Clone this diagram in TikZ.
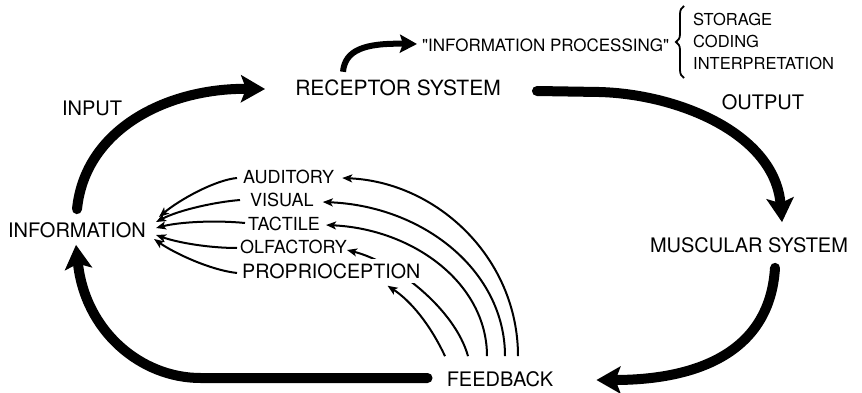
\documentclass[tikz,border=0pt]{standalone}
\usepackage{fontspec}
\setmainfont{TeX Gyre Heros}[Ligatures=TeXOff]
\usetikzlibrary{arrows.meta,calc,backgrounds,decorations.pathreplacing}
\begin{document}
\begin{tikzpicture}[x=1pt,y=-1pt,
  lbl/.style={inner sep=0pt,font=\fontsize{20}{22}\selectfont},
  sense/.style={inner sep=0pt,anchor=west,font=\fontsize{18}{20}\selectfont},
  small/.style={inner sep=0pt,anchor=west,font=\fontsize{16.5}{18}\selectfont},
  big/.style={line width=10pt,line cap=round,-{Stealth[length=24pt,width=27pt,inset=5pt]}},
  mid/.style={line width=6pt,-{Stealth[length=17pt,width=18pt,inset=3pt]}},
  fine/.style={line width=2pt,-{Stealth[length=10pt,width=8pt,inset=2.5pt]}},
]
\useasboundingbox (0,0) rectangle (862,393);

% labels
\node[lbl] (info) at (77,230) {INFORMATION};
\node[lbl] (input) at (92,108) {INPUT};
\node[lbl,font=\fontsize{21}{23}\selectfont] (rec) at (398,88) {RECEPTOR SYSTEM};
\node[lbl] (out) at (763,102) {OUTPUT};
\node[lbl] (mus) at (749,245) {MUSCULAR SYSTEM};
\node[lbl] (fb) at (500,379) {FEEDBACK};
\node[small,font=\fontsize{17}{19}\selectfont] (ip) at (422,45) {"INFORMATION PROCESSING"};
\node[small] (sto) at (693,19) {STORAGE};
\node[small] (cod) at (693,41) {CODING};
\node[small] (int) at (693,63) {INTERPRETATION};
\node[sense] (aud) at (243,177) {AUDITORY};
\node[sense] (vis) at (250,200) {VISUAL};
\node[sense] (tac) at (248,224) {TACTILE};
\node[sense] (olf) at (240,247) {OLFACTORY};
\node[sense,font=\fontsize{19.7}{21}\selectfont,fill=white,inner sep=4pt] (prop) at (238,271) {PROPRIOCEPTION};

% brace
\draw[line width=1.8pt,decorate,decoration={brace,amplitude=8pt}]
  ($(int.west)+(-9,15)$) -- ($(sto.west)+(-9,-13)$);

\begin{scope}[on background layer]
% main loop
\draw[big] ($(info.north)+(0,-13)$) .. controls +(8,-80) and +(-98,-1) .. ($(rec.west)+(-30,1)$);
\draw[big] ($(rec.east)+(36,3)$) -- ++(62,1) .. controls +(80,2) and +(-7,-88) .. ($(mus.north)+(33,-15)$);
\draw[big] ($(mus.south)+(26,15)$) .. controls +(-5,83) and +(103,0) .. ($(fb.east)+(43,1)$);
\draw[big] ($(fb.west)+(-19,-1)$) -- ++(-227,0) .. controls +(-60,0) and +(9,86) .. ($(info.south)+(-1,7)$);
% processing
\draw[mid] ($(rec.north)+(-55,-8)$) .. controls +(2,-22) and +(-52,-1) .. ($(ip.west)+(-5,-1)$);
% senses to information
\draw[fine] ($(aud.west)+(-6,1)$) .. controls +(-22,2) and +(20,-17) .. ($(info.east)+(13,-13)$);
\draw[fine] ($(vis.west)+(-10,0)$) .. controls +(-25,2) and +(23,-12) .. ($(info.east)+(10,-8)$);
\draw[fine] ($(tac.west)+(-3,-1)$) .. controls +(-30,-3) and +(23,-6) .. ($(info.east)+(10,-2)$);
\draw[fine] ($(olf.west)+(-3,1)$) .. controls +(-27,0) and +(23,8) .. ($(info.east)+(10,5)$);
\draw[fine] ($(prop.west)+(-1,2)$) .. controls +(-27,-3) and +(20,14) .. ($(info.east)+(8,9)$);
% feedback to senses
\draw[fine] ($(fb.north)+(18,-15)$) .. controls +(0,-98) and +(95,4) .. ($(aud.east)+(8,1)$);
\draw[fine] ($(fb.north)+(5,-15)$) .. controls +(0,-85) and +(101,4) .. ($(vis.east)+(9,2)$);
\draw[fine] ($(fb.north)+(-13,-15)$) .. controls +(0,-73) and +(87,4) .. ($(tac.east)+(6,1)$);
\draw[fine] ($(fb.north)+(-32,-15)$) .. controls +(-13,-47) and +(48,12) .. ($(olf.east)+(0,3)$);
\draw[fine] ($(fb.north)+(-55,-15)$) .. controls +(-15,-32) and +(23,15) .. ($(prop.south east)+(-37,3)$);
\end{scope}
\end{tikzpicture}
\end{document}
